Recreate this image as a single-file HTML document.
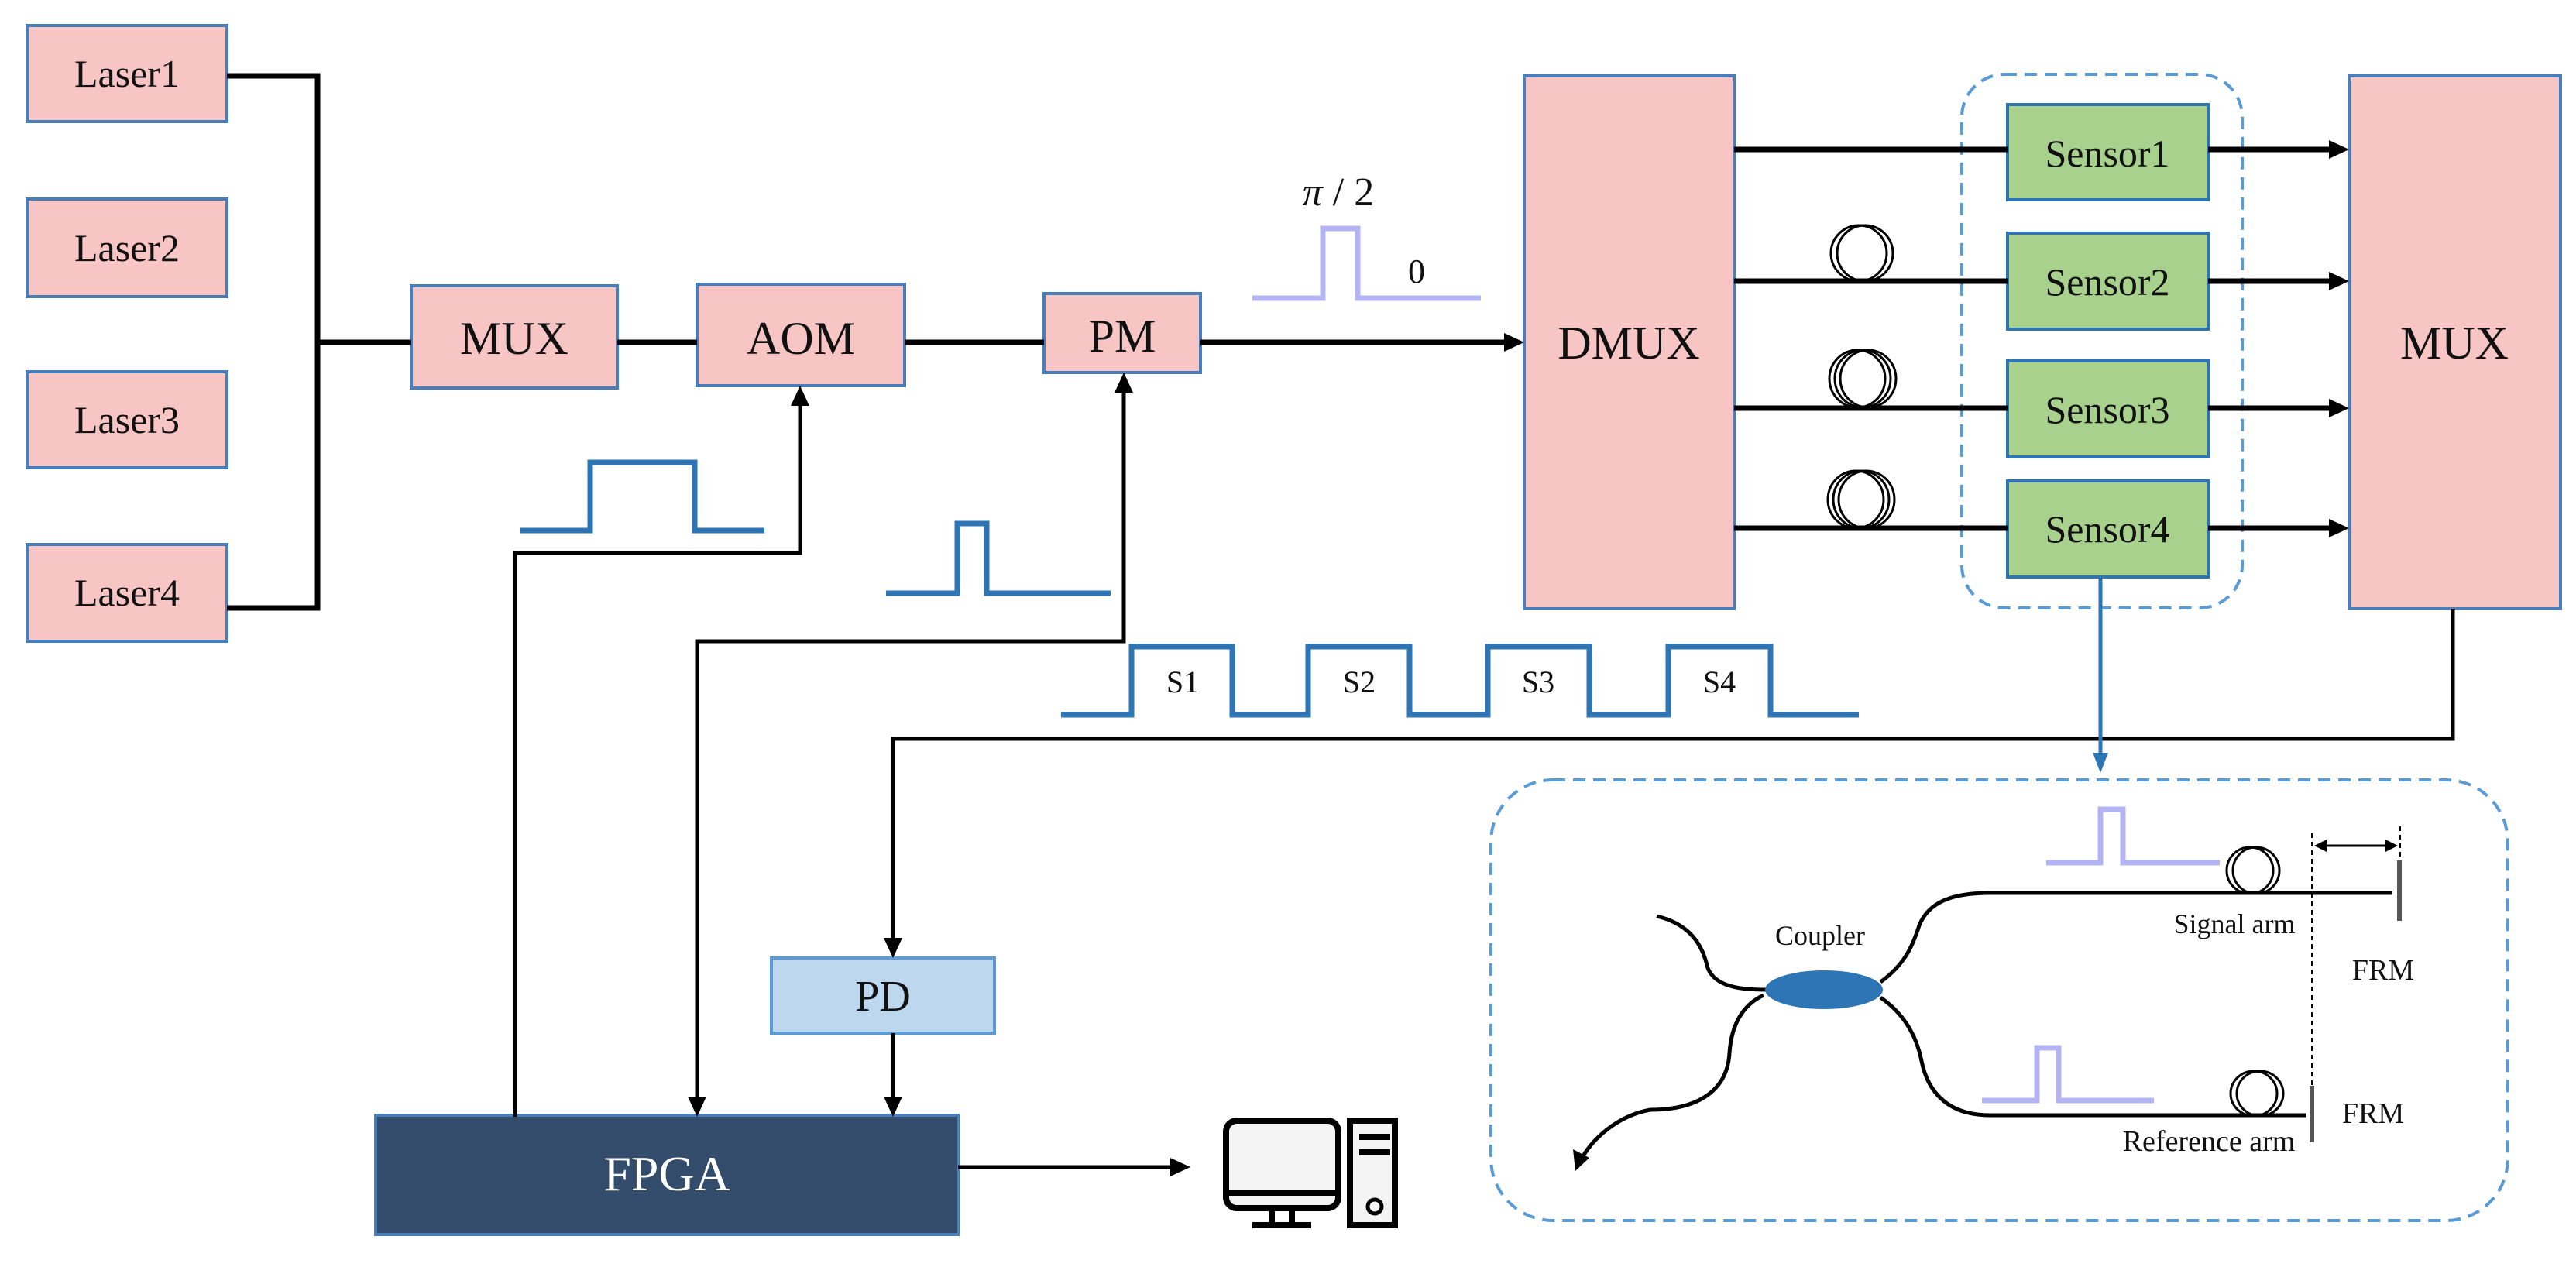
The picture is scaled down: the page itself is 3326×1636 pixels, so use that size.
<!DOCTYPE html>
<html><head><meta charset="utf-8"><style>
html,body{margin:0;padding:0;background:#fff}
svg{display:block}
text{font-family:"Liberation Serif",serif;fill:#111}
</style></head><body>
<svg width="3326" height="1636" viewBox="0 0 3326 1636" xmlns="http://www.w3.org/2000/svg">
<defs>
<marker id="a" markerWidth="10" markerHeight="10" refX="9" refY="5" orient="auto" markerUnits="userSpaceOnUse" viewBox="0 0 10 10">
</marker>
</defs>
<g fill="#f8c5c5" stroke="#4a7ebb" stroke-width="4">
<rect x="35" y="33" width="258" height="124"/>
<rect x="35" y="257" width="258" height="126"/>
<rect x="35" y="480" width="258" height="124"/>
<rect x="35" y="703" width="258" height="125"/>
<rect x="531" y="369" width="266" height="132"/>
<rect x="900" y="367" width="268" height="131"/>
<rect x="1348" y="379" width="202" height="102"/>
<rect x="1968" y="98" width="271" height="688"/>
<rect x="3033" y="98" width="273" height="688"/>
</g>
<g fill="#a9d18e" stroke="#2e75b6" stroke-width="4">
<rect x="2592" y="135" width="259" height="123"/>
<rect x="2592" y="301" width="259" height="124"/>
<rect x="2592" y="466" width="259" height="124"/>
<rect x="2592" y="621" width="259" height="124"/>
</g>
<rect x="996" y="1237" width="288" height="97" fill="#bdd7ee" stroke="#5b9bd5" stroke-width="4"/>
<rect x="485" y="1440" width="752" height="154" fill="#344c6b" stroke="#4a7ebb" stroke-width="4"/>
<!-- dashed boxes -->
<rect x="2533" y="96" width="362" height="689" rx="55" fill="none" stroke="#5b9bd5" stroke-width="4" stroke-dasharray="16,10"/>
<rect x="1925" y="1007" width="1313" height="569" rx="80" fill="none" stroke="#5b9bd5" stroke-width="4" stroke-dasharray="16,10"/>
<!-- black lines -->
<g stroke="#000" stroke-width="7" fill="none">
<polyline points="293,98 410,98 410,785 293,785"/>
<line x1="410" y1="442" x2="531" y2="442"/>
<line x1="797" y1="442" x2="900" y2="442"/>
<line x1="1168" y1="442" x2="1348" y2="442"/>
<line x1="1550" y1="442" x2="1945" y2="442"/>
<line x1="2239" y1="193" x2="2592" y2="193"/>
<line x1="2239" y1="363" x2="2592" y2="363"/>
<line x1="2239" y1="527" x2="2592" y2="527"/>
<line x1="2239" y1="682" x2="2592" y2="682"/>
<line x1="2851" y1="193" x2="3010" y2="193"/>
<line x1="2851" y1="363" x2="3010" y2="363"/>
<line x1="2851" y1="527" x2="3010" y2="527"/>
<line x1="2851" y1="682" x2="3010" y2="682"/>
</g>
<g stroke="#000" stroke-width="5" fill="none">
<polyline points="665,1442 665,714 1033,714 1033,520"/>
<polyline points="900,1418 900,828 1451,828 1451,503"/>
<polyline points="3167,786 3167,954 1153,954 1153,1212"/>
<line x1="1153" y1="1334" x2="1153" y2="1418"/>
<line x1="1237" y1="1507" x2="1512" y2="1507"/>
</g>
<g fill="#000">
<polygon points="1968,442 1942,430 1942,454"/>
<polygon points="3033,193 3007,181 3007,205"/>
<polygon points="3033,363 3007,351 3007,375"/>
<polygon points="3033,527 3007,515 3007,539"/>
<polygon points="3033,682 3007,670 3007,694"/>
<polygon points="1033,498 1021,524 1045,524"/>
<polygon points="1451,481 1439,507 1463,507"/>
<polygon points="1153,1237 1141,1211 1165,1211"/>
<polygon points="900,1442 888,1416 912,1416"/>
<polygon points="1153,1442 1141,1416 1165,1416"/>
<polygon points="1537,1507 1511,1495 1511,1519"/>
</g>
<!-- coils -->
<g fill="none" stroke="#000" stroke-width="3">
<ellipse cx="2400" cy="327" rx="36" ry="36"/><ellipse cx="2408" cy="327" rx="36" ry="36"/>
<ellipse cx="2398" cy="489" rx="36" ry="37"/><ellipse cx="2405" cy="489" rx="36" ry="37"/><ellipse cx="2412" cy="489" rx="36" ry="37"/>
<ellipse cx="2396" cy="645" rx="36" ry="37"/><ellipse cx="2403" cy="645" rx="36" ry="37"/><ellipse cx="2410" cy="645" rx="36" ry="37"/>
<ellipse cx="2905" cy="1124" rx="30" ry="30"/><ellipse cx="2913" cy="1124" rx="30" ry="30"/>
<ellipse cx="2910" cy="1412" rx="30" ry="29"/><ellipse cx="2918" cy="1412" rx="30" ry="29"/>
</g>
<!-- pulses -->
<g fill="none" stroke="#2e75b6" stroke-width="7">
<polyline points="672,685 762,685 762,597 897,597 897,685 987,685"/>
<polyline points="1144,766 1236,766 1236,676 1274,676 1274,766 1434,766"/>
<polyline points="1370,923 1461,923 1461,835 1591,835 1591,923 1689,923 1689,835 1820,835 1820,923 1921,923 1921,835 2052,835 2052,923 2154,923 2154,835 2286,835 2286,923 2400,923"/>
</g>
<g fill="none" stroke="#b4b4f5" stroke-width="7">
<polyline points="1617,385 1708,385 1708,295 1753,295 1753,385 1912,385"/>
<polyline points="2642,1114 2712,1114 2712,1045 2741,1045 2741,1114 2866,1114"/>
<polyline points="2559,1421 2630,1421 2630,1353 2658,1353 2658,1421 2781,1421"/>
</g>
<!-- tap arrow -->
<line x1="2712" y1="745" x2="2712" y2="975" stroke="#2e75b6" stroke-width="5"/>
<polygon points="2712,998 2702,972 2722,972" fill="#2e75b6"/>
<!-- coupler -->
<g fill="none" stroke="#000" stroke-width="5">
<path d="M2139,1183 C2190,1195 2200,1230 2205,1250 C2215,1275 2250,1278 2280,1278"/>
<path d="M2277,1285 C2245,1300 2235,1330 2233,1360 C2230,1410 2190,1433 2131,1433 C2090,1440 2055,1470 2040,1500"/>
<path d="M2428,1268 C2460,1245 2470,1220 2478,1195 C2490,1165 2520,1153 2569,1153 L3089,1153"/>
<path d="M2428,1288 C2460,1310 2475,1340 2481,1370 C2490,1415 2520,1440 2569,1440 L2978,1440"/>
</g>
<polygon points="2034,1512 2031,1484 2052,1495" fill="#000"/>
<ellipse cx="2355" cy="1278" rx="76" ry="25" fill="#2e75b6"/>
<line x1="3098" y1="1111" x2="3098" y2="1189" stroke="#555" stroke-width="6"/>
<line x1="2985" y1="1402" x2="2985" y2="1475" stroke="#555" stroke-width="6"/>
<g stroke="#000" stroke-width="2" stroke-dasharray="6,5">
<line x1="2985" y1="1076" x2="2985" y2="1402"/>
<line x1="3099" y1="1067" x2="3099" y2="1108"/>
</g>
<line x1="3000" y1="1092" x2="3084" y2="1092" stroke="#000" stroke-width="3"/>
<polygon points="2988,1092 3004,1084 3004,1100" fill="#000"/>
<polygon points="3096,1092 3080,1084 3080,1100" fill="#000"/>
<!-- computer -->
<g fill="none" stroke="#000" stroke-width="8">
<rect x="1583" y="1447" width="145" height="113" rx="14" fill="#f4f4f4"/>
<line x1="1583" y1="1540" x2="1728" y2="1540"/>
<line x1="1642" y1="1560" x2="1642" y2="1582"/>
<line x1="1668" y1="1560" x2="1668" y2="1582"/>
<line x1="1617" y1="1582" x2="1693" y2="1582"/>
<rect x="1743" y="1447" width="58" height="135" fill="#f4f4f4"/>
<line x1="1755" y1="1468" x2="1795" y2="1468"/>
<line x1="1755" y1="1488" x2="1795" y2="1488"/>
<circle cx="1775" cy="1558" r="9" stroke-width="5"/>
</g>
<!-- text -->
<g font-size="50" text-anchor="middle">
<text x="164" y="112">Laser1</text>
<text x="164" y="337">Laser2</text>
<text x="164" y="559">Laser3</text>
<text x="164" y="782">Laser4</text>
<text x="2721" y="215">Sensor1</text>
<text x="2721" y="381">Sensor2</text>
<text x="2721" y="546">Sensor3</text>
<text x="2721" y="700">Sensor4</text>
</g>
<g font-size="60" text-anchor="middle">
<text x="664" y="457">MUX</text>
<text x="1034" y="457">AOM</text>
<text x="1449" y="454">PM</text>
<text x="2103" y="463">DMUX</text>
<text x="3169" y="463">MUX</text>
<text x="1140" y="1305" font-size="56">PD</text>
<text x="861" y="1537" font-size="64" fill="#fff" style="fill:#fff">FPGA</text>
</g>
<g font-size="40" text-anchor="middle">
<text x="1527" y="894">S1</text>
<text x="1755" y="894">S2</text>
<text x="1986" y="894">S3</text>
<text x="2220" y="894">S4</text>
</g>
<text x="1728" y="265" font-size="52" text-anchor="middle"><tspan font-style="italic">π</tspan> / 2</text>
<text x="1829" y="365" font-size="44" text-anchor="middle">0</text>
<text x="2350" y="1220" font-size="36" text-anchor="middle">Coupler</text>
<text x="2885" y="1205" font-size="36" text-anchor="middle">Signal arm</text>
<text x="2852" y="1486" font-size="38" text-anchor="middle">Reference arm</text>
<text x="3077" y="1265" font-size="38" text-anchor="middle">FRM</text>
<text x="3064" y="1450" font-size="38" text-anchor="middle">FRM</text>
</svg>
</body></html>
